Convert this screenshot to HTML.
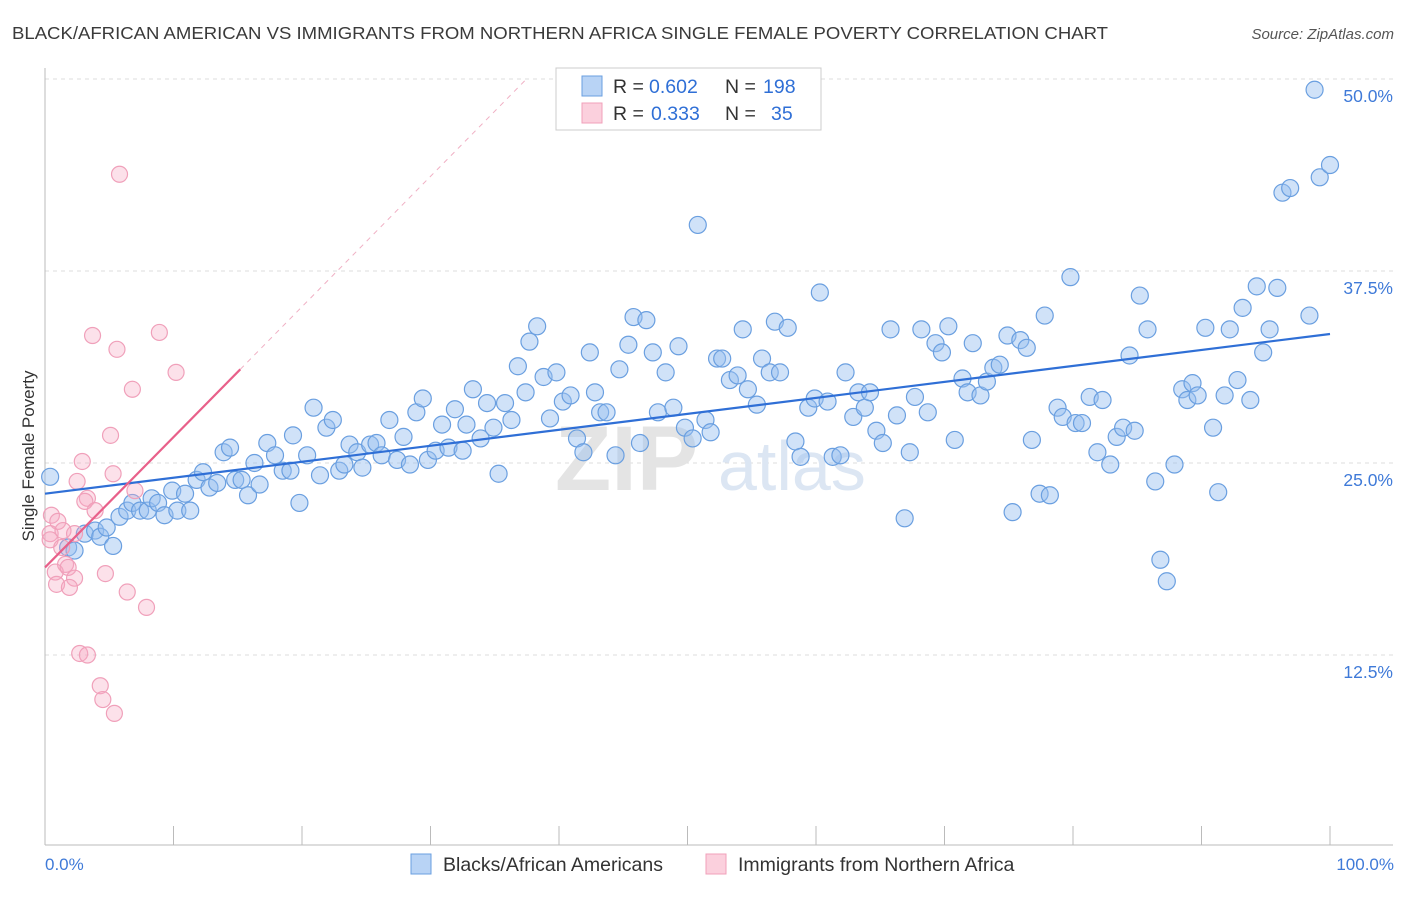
<!DOCTYPE html>
<html><head><meta charset="utf-8">
<style>
body{margin:0;background:#fff;font-family:"Liberation Sans",sans-serif;}
svg text{font-family:"Liberation Sans",sans-serif;}
</style></head>
<body>
<svg id="chart" width="1406" height="892" xmlns="http://www.w3.org/2000/svg">
<text x="12" y="39" font-size="17.5" fill="#3a3a3a" textLength="1096" lengthAdjust="spacingAndGlyphs">BLACK/AFRICAN AMERICAN VS IMMIGRANTS FROM NORTHERN AFRICA SINGLE FEMALE POVERTY CORRELATION CHART</text>
<text x="1394" y="39" font-size="15" fill="#555" text-anchor="end" font-style="italic">Source: ZipAtlas.com</text>
<g id="grid"></g>
<g>
<text x="555" y="490" font-size="92" fill="#e4e4e4" font-family="Liberation Serif" font-weight="bold">ZIP</text>
<text x="718" y="490" font-size="70" fill="#dce6f3">atlas</text>
</g>
<g id="axes"></g>
<g id="marks"></g>
<text transform="translate(34,456) rotate(-90)" font-size="17" fill="#333" text-anchor="middle">Single Female Poverty</text>
<text x="45" y="870" font-size="17" fill="#3f7ad8">0.0%</text>
<text x="1394" y="870" font-size="17" fill="#3f7ad8" text-anchor="end">100.0%</text>
<g>
<rect x="556" y="68" width="265" height="62" fill="#fff" stroke="#ccc"/>
<rect x="582" y="76" width="20" height="20" fill="#b8d3f5" stroke="#6a9fe0"/>
<rect x="582" y="103" width="20" height="20" fill="#fbd0dd" stroke="#f0a0ba"/>
<text x="613" y="93" font-size="19.5" fill="#333">R =</text>
<text x="649" y="93" font-size="19.5" fill="#2f6fd6">0.602</text>
<text x="725" y="93" font-size="19.5" fill="#333">N =</text>
<text x="763" y="93" font-size="19.5" fill="#2f6fd6">198</text>
<text x="613" y="120" font-size="19.5" fill="#333">R =</text>
<text x="651" y="120" font-size="19.5" fill="#2f6fd6">0.333</text>
<text x="725" y="120" font-size="19.5" fill="#333">N =</text>
<text x="771" y="120" font-size="19.5" fill="#2f6fd6">35</text>
</g>
<g>
<rect x="411" y="854" width="20" height="20" fill="#b8d3f5" stroke="#6a9fe0"/>
<text x="443" y="871" font-size="19.5" fill="#333">Blacks/African Americans</text>
<rect x="706" y="854" width="20" height="20" fill="#fbd0dd" stroke="#f0a0ba"/>
<text x="738" y="871" font-size="19.5" fill="#333">Immigrants from Northern Africa</text>
</g>
</svg>
<script>
const yTicks=[12.5,25,37.5,50];
const yTickLabels=["12.5%","25.0%","37.5%","50.0%"];
const xTicks=[0,10,20,30,40,50,60,70,80,90,100];
const blueX=[0.4,1.8,2.3,3.1,3.9,4.3,4.8,5.3,5.8,6.4,6.8,7.4,8.0,8.3,8.8,9.3,9.9,10.3,10.9,11.3,11.8,12.3,12.8,13.4,13.9,14.4,14.8,15.3,15.8,16.3,16.7,17.3,17.9,18.5,19.1,19.3,19.8,20.4,20.9,21.4,21.9,22.4,22.9,23.3,23.7,24.3,24.7,25.3,25.8,26.2,26.8,27.4,27.9,28.4,28.9,29.4,29.8,30.4,30.9,31.4,31.9,32.5,32.8,33.3,33.9,34.4,34.9,35.3,35.8,36.3,36.8,37.4,37.7,38.3,38.8,39.3,39.8,40.3,40.9,41.4,41.9,42.4,42.8,43.2,43.7,44.4,44.7,45.4,45.8,46.3,46.8,47.3,47.7,48.3,48.9,49.3,49.8,50.4,50.8,51.4,51.8,52.3,52.7,53.3,53.9,54.3,54.7,55.4,55.8,56.4,56.8,57.2,57.8,58.4,58.8,59.4,59.9,60.3,60.9,61.3,61.9,62.3,62.9,63.3,63.8,64.2,64.7,65.2,65.8,66.3,66.9,67.3,67.7,68.2,68.7,69.3,69.8,70.3,70.8,71.4,71.8,72.2,72.8,73.3,73.8,74.3,74.9,75.3,75.9,76.4,76.8,77.4,77.8,78.2,78.8,79.2,79.8,80.2,80.7,81.3,81.9,82.3,82.9,83.4,83.9,84.4,84.8,85.2,85.8,86.4,86.8,87.3,87.9,88.5,88.9,89.3,89.7,90.3,90.9,91.3,91.8,92.2,92.8,93.2,93.8,94.3,94.8,95.3,95.9,96.3,96.9,98.4,98.8,99.2,100];
const blueY=[24.1,19.5,19.3,20.4,20.6,20.2,20.8,19.6,21.5,21.9,22.4,21.9,21.9,22.7,22.4,21.6,23.2,21.9,23.0,21.9,23.9,24.4,23.4,23.7,25.7,26.0,23.9,23.9,22.9,25.0,23.6,26.3,25.5,24.5,24.5,26.8,22.4,25.5,28.6,24.2,27.3,27.8,24.5,24.9,26.2,25.7,24.7,26.2,26.3,25.5,27.8,25.2,26.7,24.9,28.3,29.2,25.2,25.8,27.5,26.0,28.5,25.8,27.5,29.8,26.6,28.9,27.3,24.3,28.9,27.8,31.3,29.6,32.9,33.9,30.6,27.9,30.9,29.0,29.4,26.6,25.7,32.2,29.6,28.3,28.3,25.5,31.1,32.7,34.5,26.3,34.3,32.2,28.3,30.9,28.6,32.6,27.3,26.6,40.5,27.8,27.0,31.8,31.8,30.4,30.7,33.7,29.8,28.8,31.8,30.9,34.2,30.9,33.8,26.4,25.4,28.6,29.2,36.1,29.0,25.4,25.5,30.9,28.0,29.6,28.6,29.6,27.1,26.3,33.7,28.1,21.4,25.7,29.3,33.7,28.3,32.8,32.2,33.9,26.5,30.5,29.6,32.8,29.4,30.3,31.2,31.4,33.3,21.8,33.0,32.5,26.5,23.0,34.6,22.9,28.6,28.0,37.1,27.6,27.6,29.3,25.7,29.1,24.9,26.7,27.3,32.0,27.1,35.9,33.7,23.8,18.7,17.3,24.9,29.8,29.1,30.2,29.4,33.8,27.3,23.1,29.4,33.7,30.4,35.1,29.1,36.5,32.2,33.7,36.4,42.6,42.9,34.6,49.3,43.6,44.4];
const pinkX=[5.8,3.7,5.6,8.9,10.2,6.8,5.1,2.9,5.3,2.5,7.0,3.3,3.1,3.9,0.5,1.0,0.4,1.4,2.3,0.4,1.3,1.6,0.8,1.8,2.3,0.9,1.9,4.7,6.4,7.9,2.7,3.3,4.3,4.5,5.4];
const pinkY=[43.8,33.3,32.4,33.5,30.9,29.8,26.8,25.1,24.3,23.8,23.2,22.7,22.5,21.9,21.6,21.2,20.4,20.6,20.4,20.0,19.5,18.4,17.9,18.2,17.5,17.1,16.9,17.8,16.6,15.6,12.6,12.5,10.5,9.6,8.7];
const blueTrend=[23.0,33.4];
const pinkTrend=[18.2,31.1];
const pinkTrendEndX=15.2;

const NS="http://www.w3.org/2000/svg";
const X0=45,X1=1330,Y0=847,YS=15.36;
function xs(v){return X0+(X1-X0)*v/100;}
function ys(v){return Y0-v*YS;}
function mk(tag,attrs,parent){const e=document.createElementNS(NS,tag);for(const k in attrs)e.setAttribute(k,attrs[k]);parent.appendChild(e);return e;}
const grid=document.getElementById('grid'),axes=document.getElementById('axes'),marks=document.getElementById('marks');
yTicks.forEach((t,i)=>{
  const l=mk('line',{x1:45,x2:1393,y1:ys(t),y2:ys(t),stroke:'#dcdcdc','stroke-dasharray':'4,4'},grid);
  
  
  const tx=mk('text',{x:1393,y:ys(t)+23,'font-size':17.5,fill:'#3f7ad8','text-anchor':'end'},axes);
  tx.textContent=yTickLabels[i];
  
  
});
let al=mk('line',{x1:45,x2:45,y1:68,y2:845,stroke:'#bbb'},axes);


al=mk('line',{x1:45,x2:1393,y1:845,y2:845,stroke:'#bbb'},axes);


xTicks.forEach(t=>{
  const l=mk('line',{x1:xs(t),x2:xs(t),y1:826,y2:845,stroke:'#bbb'},axes);
  
  
});
blueX.forEach((x,i)=>{
  const c=mk('circle',{cx:xs(x),cy:ys(blueY[i]),r:8.5,fill:'rgba(150,190,240,0.45)',stroke:'#6a9fe0','stroke-width':1.2},marks);
  
  
});
pinkX.forEach((x,i)=>{
  const c=mk('circle',{cx:xs(x),cy:ys(pinkY[i]),r:8,fill:'rgba(245,170,195,0.35)',stroke:'#f0a0ba','stroke-width':1.2},marks);
  
  
});
let t=mk('line',{x1:xs(0),y1:ys(blueTrend[0]),x2:xs(100),y2:ys(blueTrend[1]),stroke:'#2f6fd6','stroke-width':2.2},marks);


const slope=(pinkTrend[1]-pinkTrend[0])/pinkTrendEndX;
t=mk('line',{x1:xs(0),y1:ys(pinkTrend[0]),x2:xs(pinkTrendEndX),y2:ys(pinkTrend[1]),stroke:'#e8608a','stroke-width':2.2},marks);


const xe=(50-pinkTrend[0])/slope;
t=mk('line',{x1:xs(pinkTrendEndX),y1:ys(pinkTrend[1]),x2:xs(xe),y2:ys(50),stroke:'#f0b0c4','stroke-width':1,'stroke-dasharray':'5,5'},marks);


</script>
</body></html>
